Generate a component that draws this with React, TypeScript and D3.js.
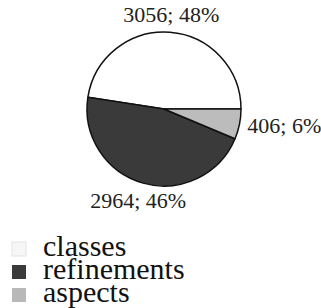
import { useRef, useEffect } from "react";
import * as d3 from "d3";

const categories = ["classes", "refinements", "aspects"];
const counts = [3056, 2964, 406];
const percents = [48, 46, 6];
const colors = ["#ffffff", "#3a3a3a", "#bcbcbc"];
const swatchColors = ["#f6f6f6", "#3a3a3a", "#b8b8b8"];

const width = 321;
const height = 308;
const cx = 164;
const cy = 109;
const radius = 77;
const serif = "Liberation Serif, Tinos, Times New Roman, Times, DejaVu Serif, serif";

export default function App() {
  const svgRef = useRef<SVGSVGElement>(null);

  useEffect(() => {
    const svg = d3.select(svgRef.current);
    svg.selectAll("*").remove();

    const data = categories.map((c, i) => ({ name: c, value: counts[i], pct: percents[i], color: colors[i] }));

    // counter-clockwise, starting at 3 o'clock
    const pie = d3
      .pie<any>()
      .sort(null)
      .value((d) => d.value)
      .startAngle(Math.PI / 2)
      .endAngle(Math.PI / 2 - 2 * Math.PI);

    const arcs = pie(data);
    const arc = d3.arc<any>().innerRadius(0).outerRadius(radius);

    const chart = svg.append("g").attr("transform", `translate(${cx},${cy})`);

    chart
      .selectAll("path")
      .data(arcs)
      .enter()
      .append("path")
      .attr("d", arc)
      .attr("fill", (d) => d.data.color)
      .attr("stroke", "#111")
      .attr("stroke-width", 1.5)
      .attr("stroke-linejoin", "round");

    chart
      .selectAll("text")
      .data(arcs)
      .enter()
      .append("text")
      .each(function (d) {
        const mid = (d.startAngle + d.endAngle) / 2;
        const s = Math.sin(mid);
        const side = Math.abs(s) > 0.9;
        const r = side ? radius + 8 : radius + 18;
        d3.select(this)
          .attr("x", s * r)
          .attr("y", -Math.cos(mid) * r)
          .attr("text-anchor", side ? (s > 0 ? "start" : "end") : "middle");
      })
      .attr("dominant-baseline", "central")
      .style("font-family", serif)
      .attr("font-size", 22)
      .attr("fill", "#222")
      .text((d) => `${d.data.value}; ${d.data.pct}%`);

    const y = d3.scalePoint().domain(categories).range([256, 302]);

    const legend = svg
      .append("g")
      .selectAll("g")
      .data(categories)
      .enter()
      .append("g")
      .attr("transform", (c) => `translate(0,${y(c)})`);

    legend
      .append("rect")
      .attr("x", 12)
      .attr("y", -14)
      .attr("width", 14)
      .attr("height", 14)
      .attr("fill", (_, i) => swatchColors[i])
      .attr("stroke", (_, i) => (i === 0 ? "#e4e4e4" : "none"));

    legend
      .append("text")
      .attr("x", 43)
      .attr("y", 0)
      .style("font-family", serif)
      .attr("font-size", 30)
      .attr("fill", "#111")
      .text((c) => c);
  }, []);

  return (
    <svg
      ref={svgRef}
      width={width}
      height={height}
      style={{ position: "absolute", left: 0, top: 0, background: "#fff" }}
    />
  );
}
